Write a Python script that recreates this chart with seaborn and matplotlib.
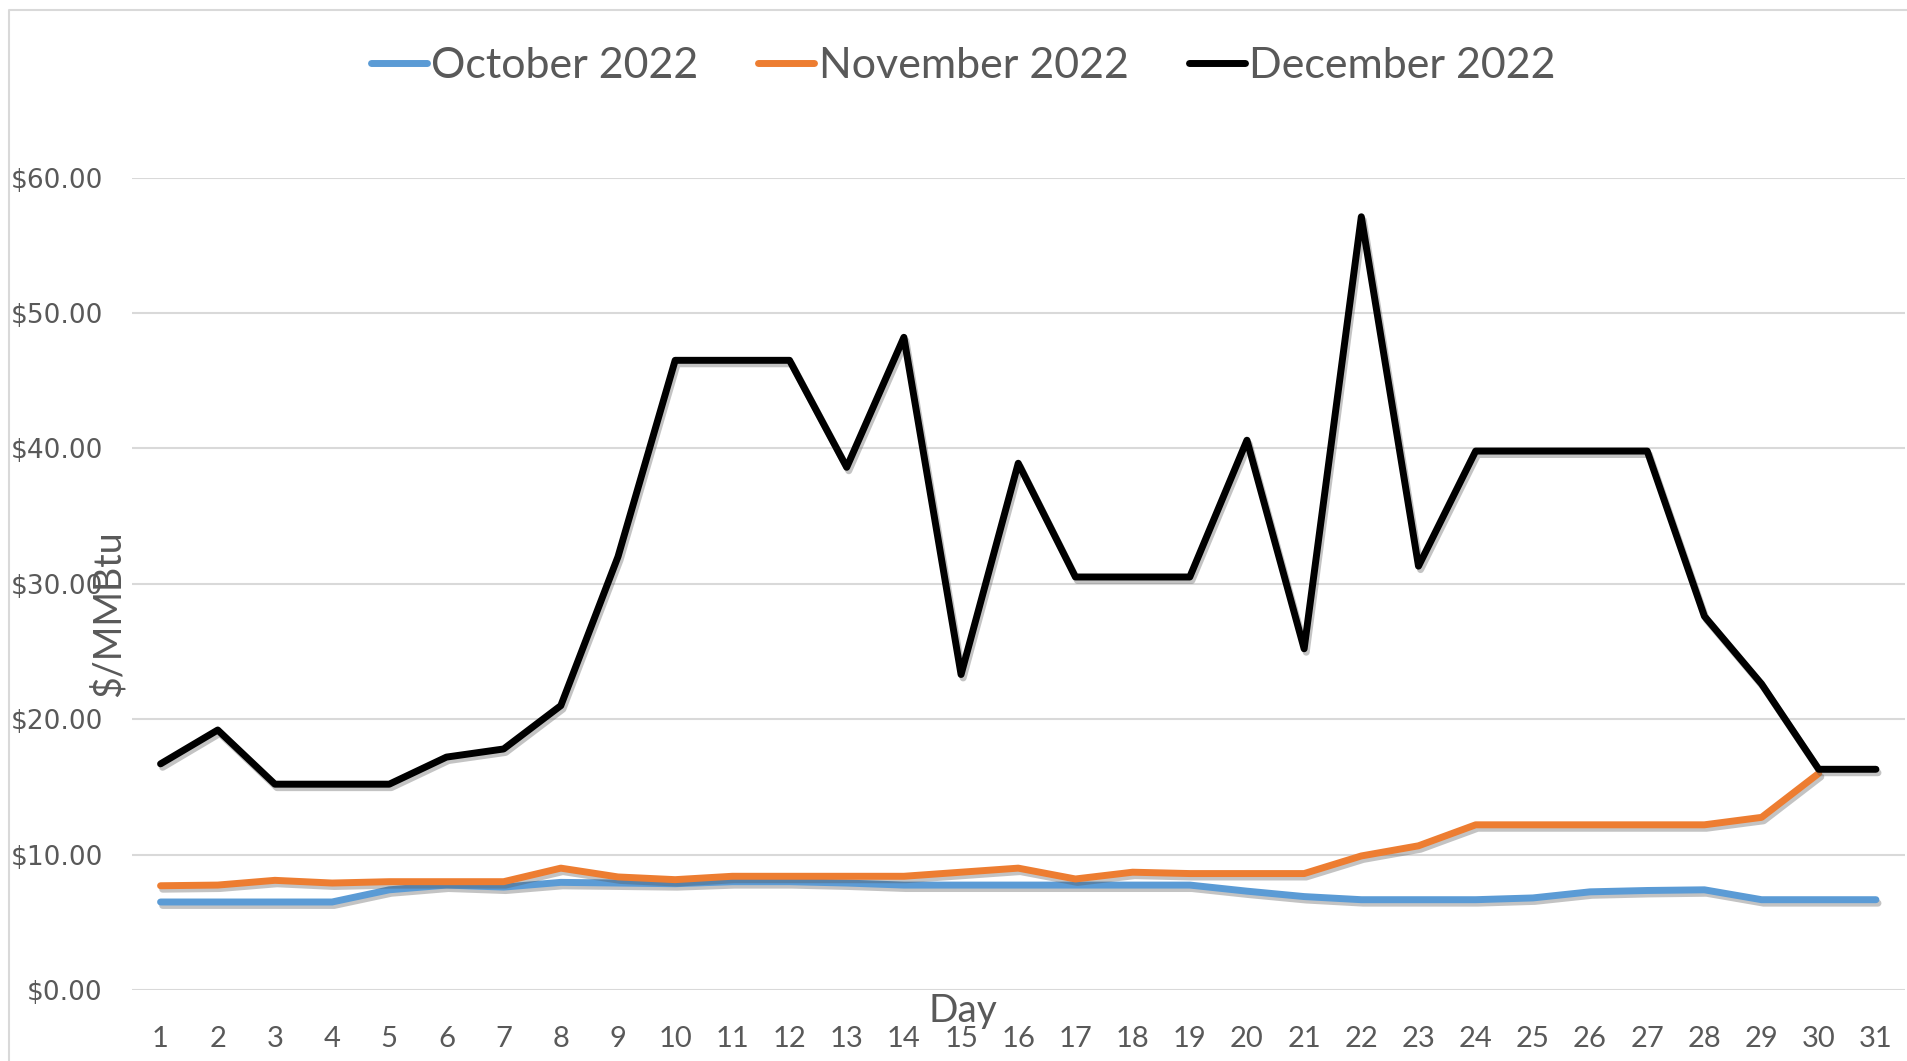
import numpy as np
import pandas as pd
import matplotlib
matplotlib.use("Agg")
import matplotlib.pyplot as plt
import matplotlib.patheffects as pe
from matplotlib.lines import Line2D
import seaborn as sns

# daily prices, $/MMBtu
days = list(range(1, 32))
october = [6.5, 6.5, 6.5, 6.5, 7.4, 7.75, 7.6, 7.95, 7.9, 7.85,
           8.0, 8.0, 7.9, 7.75, 7.75, 7.75, 7.75, 7.75, 7.75, 7.3,
           6.9, 6.67, 6.67, 6.67, 6.8, 7.25, 7.35, 7.4, 6.67, 6.67, 6.67]
november = [7.7, 7.75, 8.1, 7.9, 8.0, 8.0, 8.0, 9.0, 8.35, 8.15,
            8.4, 8.4, 8.4, 8.4, 8.7, 9.0, 8.2, 8.7, 8.6, 8.6,
            8.6, 9.9, 10.65, 12.2, 12.2, 12.2, 12.2, 12.2, 12.75, 16.0]
december = [16.7, 19.2, 15.2, 15.2, 15.2, 17.2, 17.8, 21.0, 32.0, 46.5,
            46.5, 46.5, 38.6, 48.2, 23.3, 38.9, 30.5, 30.5, 30.5, 40.6,
            25.2, 57.1, 31.3, 39.8, 39.8, 39.8, 39.8, 27.6, 22.6, 16.3, 16.3]
series_names = ["October 2022", "November 2022", "December 2022"]
colors = ["#5B9BD5", "#ED7D31", "#000000"]
y_ticks = [0, 10, 20, 30, 40, 50, 60]

frames = []
for name, vals in zip(series_names, [october, november, december]):
    frames.append(pd.DataFrame({"Day": days[:len(vals)], "Price": vals, "Month": name}))
df = pd.concat(frames, ignore_index=True)

sns.set_theme(style="white")
narrow = ["Lato", "DejaVu Sans"]
grey_text = "#595959"

fig = plt.figure(figsize=(19.07, 10.61), dpi=100)
ax = fig.add_axes([0.0692, 0.0669, 0.9295, 0.7658])

sns.lineplot(data=df, x="Day", y="Price", hue="Month", hue_order=series_names,
             palette=colors, linewidth=5, ax=ax, legend=False)
for line in ax.lines:
    line.set_solid_capstyle("round")
    line.set_solid_joinstyle("round")
    line.set_path_effects([pe.SimpleLineShadow(offset=(1.5, -2.5), shadow_color="#555555", alpha=0.35),
                           pe.Normal()])

ax.set_xlim(0.5, 31.5)
ax.set_ylim(0, 60)
ax.set_xticks(days)
ax.set_yticks(y_ticks)
ax.set_yticklabels([f"${v:.2f}" for v in y_ticks])
ax.grid(axis="y", color="#D9D9D9", linewidth=1.5)
ax.grid(axis="x", visible=False)
for s in ax.spines.values():
    s.set_visible(False)
ax.tick_params(axis="both", length=0)
ax.tick_params(axis="x", pad=26, labelsize=21, labelcolor=grey_text)
ax.tick_params(axis="y", pad=21, labelsize=19, labelcolor=grey_text)
for t in ax.get_xticklabels():
    t.set_family(narrow)
for t in ax.get_yticklabels():
    t.set_family("DejaVu Sans")

ax.set_xlabel("Day", fontsize=28, color=grey_text, family=narrow)
ax.xaxis.set_label_coords(0.469, -0.004)
ax.set_ylabel("$/MMBtu", fontsize=27, color=grey_text, family=narrow)
ax.yaxis.set_label_coords(-0.003, 0.463)

handles = [Line2D([0], [0], color=c, linewidth=5, solid_capstyle="round") for c in colors]
fig.legend(handles, series_names, loc="center", bbox_to_anchor=(0.505, 0.938), ncol=3,
           frameon=False, handlelength=1.3, handletextpad=0.1, columnspacing=1.4,
           prop={"family": narrow, "size": 31}, labelcolor=grey_text)

# chart area border
fig.add_artist(Line2D([9 / 1907, 9 / 1907, 1], [0, 1 - 10 / 1061, 1 - 10 / 1061],
                      transform=fig.transFigure, color="#D9D9D9", linewidth=1.5))

fig.savefig("out.png", dpi=100)
